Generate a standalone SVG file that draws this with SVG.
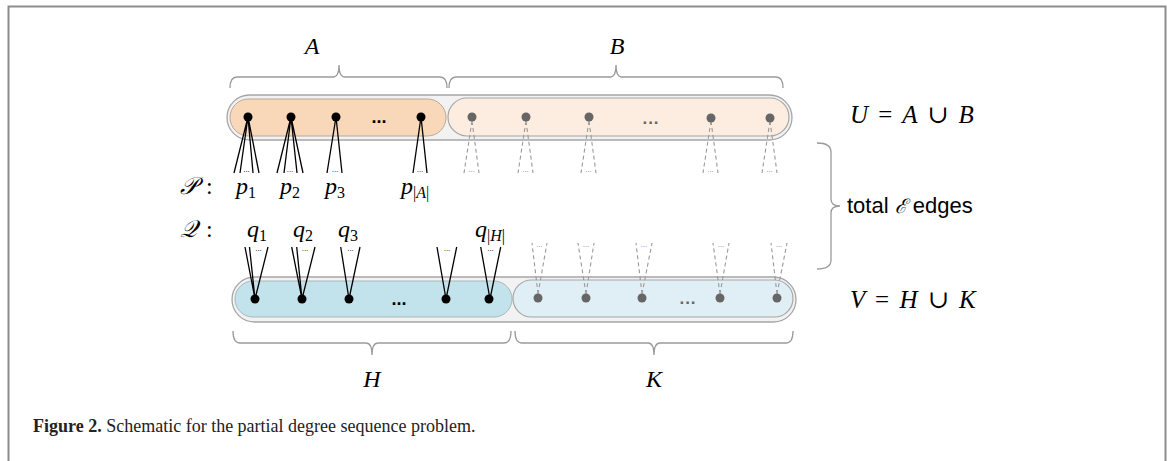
<svg xmlns="http://www.w3.org/2000/svg" width="1169" height="461" viewBox="0 0 1169 461">
<style>
.math{font-family:"Liberation Serif","DejaVu Serif",serif;font-style:italic;font-size:24px;fill:#000}
.rm{font-style:normal}
.sub{font-size:16px;font-style:normal}
.subi{font-style:italic}
.brace{fill:none;stroke:#9a9a9a;stroke-width:1.3}
.outer{fill:#f2f2f2;stroke:#a6a6a6;stroke-width:1.3}
.fan{stroke:#000;stroke-width:1.3;fill:none}
.dfan{stroke:#9a9a9a;stroke-width:1.1;stroke-dasharray:4 3;fill:none}
.bn{fill:#000}
.gn{fill:#666}
.tiny{font-family:"Liberation Sans",sans-serif;font-size:8px;fill:#000;text-anchor:middle}
.tinyg{font-family:"Liberation Sans",sans-serif;font-size:8px;fill:#888;text-anchor:middle}
.dots{font-family:"Liberation Sans",sans-serif;font-size:18px;font-weight:bold;fill:#000;text-anchor:middle}
.dotsg{font-family:"Liberation Sans",sans-serif;font-size:17px;font-weight:bold;fill:#666;text-anchor:middle;letter-spacing:1px}
.cap{font-family:"Liberation Serif",serif;font-size:18px;fill:#222}
.eq{font-size:25px;word-spacing:4px}
</style>

<path d="M8.5,461 V6.5 H1165.5 V461" fill="none" stroke="#8c8c8c" stroke-width="2"/>

<g id="braces">
<path class="brace" d="M230,88 Q230,77 237,77 H333 Q339,77 339,65 Q339,77 345,77 H440 Q447,77 447,88"/>
<path class="brace" d="M449,88 Q449,77 456,77 H610 Q616,77 616,65 Q616,77 622,77 H776 Q783,77 783,88"/>
<path class="brace" d="M233,331 Q233,343 240,343 H366 Q372,343 372,355 Q372,343 378,343 H504 Q511,343 511,331"/>
<path class="brace" d="M515,331 Q515,343 522,343 H648 Q654,343 654,355 Q654,343 660,343 H786 Q793,343 793,331"/>
<path class="brace" d="M817,143 Q831,143 831,152 V199 Q831,206 840,206 Q831,206 831,213 V260 Q831,269 817,269"/>
</g>

<g id="U">
<rect class="outer" x="227" y="95" width="565" height="45" rx="22.5"/>
<g id="A">
<rect x="230" y="99" width="216" height="37" rx="18.5" fill="#f9d7b9" stroke="#b8a898" stroke-width="1"/>
</g>
<g id="B">
<rect x="448" y="98" width="341" height="38" rx="19" fill="#fdede1" stroke="#a6a6a6" stroke-width="1.2"/>
</g>
</g>

<g id="V">
<rect class="outer" x="232" y="277" width="564" height="45" rx="22.5"/>
<g id="H">
<rect x="235" y="281" width="277" height="36" rx="18" fill="#c2e3ec" stroke="#a8b8bc" stroke-width="1"/>
</g>
<g id="K">
<rect x="513" y="280" width="280" height="37" rx="18.5" fill="#e0eff5" stroke="#a6a6a6" stroke-width="1.2"/>
</g>
</g>

<g id="connectors">
<path class="fan" d="M248,117 L234,173 M248,117 L240,173 M248,117 L253,173 M248,117 L259,173"/>
<path class="fan" d="M291,117 L277,173 M291,117 L284,173 M291,117 L297,173 M291,117 L303,173"/>
<path class="fan" d="M336,117 L327,173 M336,117 L342,173"/>
<path class="fan" d="M421,117 L413,173 M421,117 L427,173"/>
<path class="dfan" d="M472,121 L464,173 M472,121 L479,173"/>
<path class="dfan" d="M526,121 L518,173 M526,121 L533,173"/>
<path class="dfan" d="M589,121 L581,173 M589,121 L596,173"/>
<path class="dfan" d="M711,121 L703,173 M711,121 L718,173"/>
<path class="dfan" d="M770,121 L762,173 M770,121 L777,173"/>
<path class="fan" d="M255,299 L245,247 M255,299 L249.5,247 M255,299 L268,247"/>
<path class="fan" d="M302,299 L291.7,247 M302,299 L296.7,247 M302,299 L315,247"/>
<path class="fan" d="M349,299 L340.7,247 M349,299 L360,247"/>
<path class="fan" d="M446,299 L437,247 M446,299 L456.7,247"/>
<path class="fan" d="M490,299 L480.7,247 M490,299 L500.7,247"/>
<path class="dfan" d="M538,294 L532,243 M538,294 L547,243"/>
<path class="dfan" d="M586,294 L578,243 M586,294 L594,243"/>
<path class="dfan" d="M642,294 L636,243 M642,294 L652,243"/>
<path class="dfan" d="M720,294 L713,243 M720,294 L729,243"/>
<path class="dfan" d="M777,294 L771,243 M777,294 L787,243"/>
</g>

<g id="fan-dots">
<text class="tiny" x="246.5" y="172">...</text>
<text class="tiny" x="290" y="172">...</text>
<text class="tiny" x="335" y="172">...</text>
<text class="tiny" x="420" y="172">...</text>
<text class="tinyg" x="471.5" y="172">...</text>
<text class="tinyg" x="525.5" y="172">...</text>
<text class="tinyg" x="588.5" y="172">...</text>
<text class="tinyg" x="710.5" y="172">...</text>
<text class="tinyg" x="769.5" y="172">...</text>
<text class="tiny" x="258.5" y="251">...</text>
<text class="tiny" x="305" y="251">...</text>
<text class="tiny" x="350.5" y="251">...</text>
<text class="tiny" x="447" y="251">...</text>
<text class="tiny" x="490.5" y="251">...</text>
<text class="tinyg" x="539.5" y="247">...</text>
<text class="tinyg" x="586" y="247">...</text>
<text class="tinyg" x="644" y="247">...</text>
<text class="tinyg" x="721" y="247">...</text>
<text class="tinyg" x="779" y="247">...</text>
</g>

<g id="nodes-A">
<circle class="bn" cx="248" cy="117" r="4.5"/>
<circle class="bn" cx="291" cy="117" r="4.5"/>
<circle class="bn" cx="336" cy="117" r="4.5"/>
<circle class="bn" cx="421" cy="117" r="4.5"/>
<text class="dots" x="379" y="123">...</text>
</g>
<g id="nodes-B">
<circle class="gn" cx="472" cy="117" r="4.5"/>
<circle class="gn" cx="526" cy="117" r="4.5"/>
<circle class="gn" cx="589" cy="117" r="4.5"/>
<circle class="gn" cx="711" cy="118" r="4.5"/>
<circle class="gn" cx="770" cy="118" r="4.5"/>
<text class="dotsg" x="651" y="124">...</text>
</g>
<g id="nodes-H">
<circle class="bn" cx="255" cy="299" r="4.5"/>
<circle class="bn" cx="302" cy="299" r="4.5"/>
<circle class="bn" cx="349" cy="299" r="4.5"/>
<circle class="bn" cx="446" cy="299" r="4.5"/>
<circle class="bn" cx="489" cy="299" r="4.5"/>
<text class="dots" x="399" y="305">...</text>
</g>
<g id="nodes-K">
<circle class="gn" cx="538" cy="298" r="4.5"/>
<circle class="gn" cx="586" cy="298" r="4.5"/>
<circle class="gn" cx="642" cy="298" r="4.5"/>
<circle class="gn" cx="720" cy="298" r="4.5"/>
<circle class="gn" cx="777" cy="298" r="4.5"/>
<text class="dotsg" x="688" y="304">...</text>
</g>

<g id="labels">
<text class="math" x="312" y="54" text-anchor="middle">A</text>
<text class="math" x="617" y="54" text-anchor="middle">B</text>
<text class="math" x="372" y="387" text-anchor="middle">H</text>
<text class="math" x="654" y="387" text-anchor="middle">K</text>
<text class="math eq" x="850" y="123">U <tspan class="rm">=</tspan> A <tspan class="rm">∪</tspan> B</text>
<text class="math eq" x="850" y="308">V <tspan class="rm">=</tspan> H <tspan class="rm">∪</tspan> K</text>
<text class="math" x="180" y="194">𝒫<tspan class="rm" x="206">:</tspan></text>
<text class="math" x="180" y="237">𝒬<tspan class="rm" x="206">:</tspan></text>
<text class="math" x="236" y="194">p<tspan class="sub" dy="4">1</tspan></text>
<text class="math" x="280" y="194">p<tspan class="sub" dy="4">2</tspan></text>
<text class="math" x="325" y="194">p<tspan class="sub" dy="4">3</tspan></text>
<text class="math" x="401" y="194">p<tspan class="sub" dy="4">|<tspan class="subi">A</tspan>|</tspan></text>
<text class="math" x="247" y="237">q<tspan class="sub" dy="4">1</tspan></text>
<text class="math" x="293" y="237">q<tspan class="sub" dy="4">2</tspan></text>
<text class="math" x="338" y="237">q<tspan class="sub" dy="4">3</tspan></text>
<text class="math" x="475" y="237">q<tspan class="sub" dy="4">|<tspan class="subi">H</tspan>|</tspan></text>
<text x="847" y="213" font-family="'Liberation Sans','DejaVu Sans',sans-serif" font-size="22" fill="#000">total <tspan font-family="'DejaVu Serif',serif" font-style="italic" font-size="20">ℰ</tspan> edges</text>
</g>

<text class="cap" x="33" y="432"><tspan font-weight="bold">Figure 2.</tspan> Schematic for the partial degree sequence problem.</text>
</svg>
